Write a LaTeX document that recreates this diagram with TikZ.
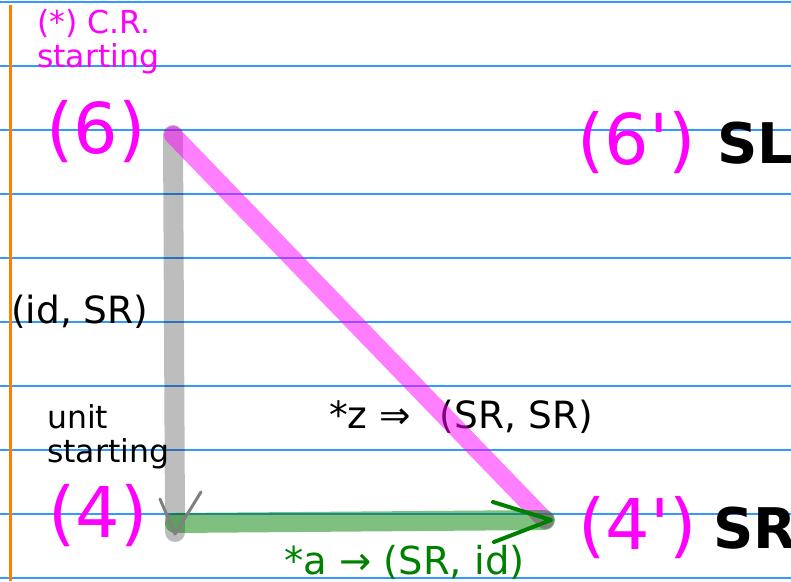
\documentclass[tikz,border=0pt]{standalone}
\usepackage{fontspec}
\setmainfont{DejaVu Sans}
\usetikzlibrary{positioning}

\definecolor{ruleblue}{HTML}{3399FF}
\definecolor{margin}{HTML}{FF8000}
\definecolor{pink}{HTML}{FF00FF}
\definecolor{leaf}{HTML}{008000}

\begin{document}
\begin{tikzpicture}[x=1pt,y=-1pt,
  big/.style={text=pink,font=\fontsize{70}{80}\selectfont,inner sep=0pt,anchor=west},
  side/.style={font=\bfseries\fontsize{56}{64}\selectfont,inner sep=0pt},
  note/.style={font=\fontsize{31.5}{34}\selectfont,align=left,inner sep=0pt,anchor=north west},
  tag/.style={font=\fontsize{37.5}{40}\selectfont,inner sep=0pt,anchor=west},
  morph/.style={line width=20pt,line cap=round}]
\useasboundingbox (0,0) rectangle (791,581);
% ruled paper
\foreach \y in {2,66,...,578}
  \draw[ruleblue,line width=1.4pt] (0,\y) -- (791,\y);
\draw[margin,line width=3pt] (10,5) -- (10,581);

% objects
\node[big] (l6) at (46,132) {(6)};
\node[big] (l6p) at (577,143) {(6\textquotesingle)};
\node[side,right=21pt of l6p] (sl) {SL};
\node[big] (l4) at (48,516) {(4)};
\node[big] (l4p) at (578,528) {(4\textquotesingle)};
\node[side,right=16pt of l4p] (sr) {SR};

\coordinate (v6) at (173,135);
\coordinate (v4) at (175,523);
\coordinate (v4p) at (545,520);

% notes and labels
\node[note,text=pink] (cr) at (37,9) {(*) C.R.\\starting};
\node[note] (unit) at (47,404) {unit\\starting};
\node[tag] (idsr) at (11,312) {(id, SR)};
\node[tag] (zsr) at (329,417) {*z ⇒\hspace{17pt} (SR, SR)};
\node[tag,text=leaf,font=\fontsize{38.5}{40}\selectfont] (asr) at (284,562) {*a → (SR, id)};

% morphisms
\draw[morph,black,opacity=.26,shorten >=-9pt] (v6) -- (v4);
\draw[morph,pink,opacity=.5,line width=18pt] (v6) -- (v4p);
\draw[morph,leaf,opacity=.5] (v4) -- (v4p);
\draw[leaf,line width=4pt,line cap=round,line join=round]
  (v4p) +(-52,-18) -- ([xshift=6pt]v4p) -- +(-57,22);
\draw[gray,line width=3pt,line cap=round,line join=round]
  (v4) +(-15,-24) -- ([yshift=-11pt]v4) -- +(26,-42);
\end{tikzpicture}
\end{document}
